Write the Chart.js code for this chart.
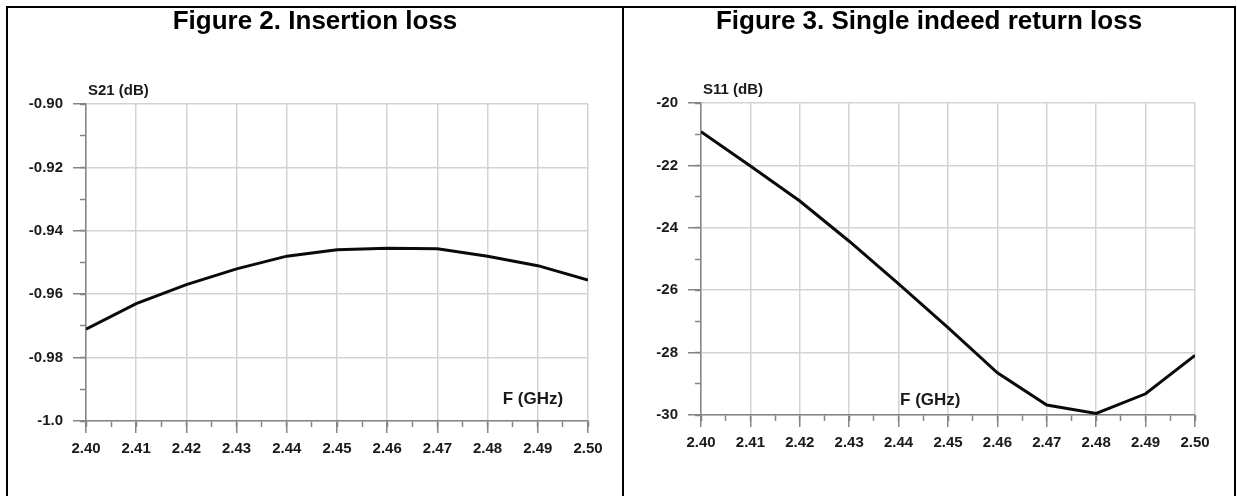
<!DOCTYPE html>
<html lang="en">
<head>
<meta charset="UTF-8">
<title>Insertion loss and return loss</title>
<style>
  html, body { margin: 0; padding: 0; background: #fff; overflow: hidden; }
  body { width: 1237px; height: 496px; position: relative; }
  .frame {
    position: absolute; left: 6px; top: 6px;
    width: 1226px; height: 600px;
    border: 2px solid #000;
  }
  .divider { position: absolute; left: 622px; top: 6px; width: 2px; height: 600px; background: #000; }
  canvas { position: absolute; }
  #chartS21 { left: 8px; top: 8px; }
  #chartS11 { left: 624px; top: 8px; }
</style>
<script src="https://cdn.jsdelivr.net/npm/chart.js@4"></script>
</head>
<body>
<div class="frame"></div>
<div class="divider"></div>
<canvas id="chartS21" width="614" height="488"></canvas>
<canvas id="chartS11" width="610" height="488"></canvas>

<script>
  // frequency points (GHz)
  const freqGHz = [2.40, 2.41, 2.42, 2.43, 2.44, 2.45, 2.46, 2.47, 2.48, 2.49, 2.50];
  // Figure 2: insertion loss S21 (dB)
  const s21dB = [-0.971, -0.963, -0.957, -0.952, -0.948, -0.946, -0.9455, -0.9457, -0.948, -0.951, -0.9555];
  // Figure 3: return loss S11 (dB)
  const s11dB = [-20.92, -22.02, -23.14, -24.43, -25.8, -27.2, -28.65, -29.68, -29.95, -29.32, -28.09];

  const tickFont = { family: '"Liberation Sans Narrow", "Liberation Sans", Arial, sans-serif', size: 15, weight: 'bold' };
  const GRID = '#d3d3d3';
  const AXIS = '#858585';

  // titles and axis names, placed from the chart's own scales
  const panelText = {
    id: 'panelText',
    afterDraw(chart, args, o) {
      const ctx = chart.ctx;
      const area = chart.chartArea;
      const xs = chart.scales.x, ys = chart.scales.y;
      ctx.save();
      ctx.fillStyle = '#000';
      ctx.textBaseline = 'alphabetic';
      ctx.textAlign = 'center';
      ctx.font = 'bold 26px "Liberation Sans", Arial, sans-serif';
      ctx.fillText(o.title, chart.width / 2, 21);
      ctx.textAlign = 'left';
      ctx.fillStyle = '#1a1a1a';
      ctx.font = 'bold 15px "Liberation Sans", Arial, sans-serif';
      ctx.fillText(o.yName, area.left + 2, area.top - 9);
      ctx.font = 'bold 17px "Liberation Sans", Arial, sans-serif';
      ctx.fillText(o.xName, xs.getPixelForValue(o.xNameAt[0]), ys.getPixelForValue(o.xNameAt[1]));
      ctx.restore();
    }
  };

  function makeChart(id, values, yMin, yMax, yStep, yFmt, text, pad, yWidth) {
    const points = freqGHz.map((f, i) => ({ x: f, y: values[i] }));
    return new Chart(document.getElementById(id), {
      type: 'line',
      data: {
        datasets: [{
          data: points,
          xAxisID: 'x',
          yAxisID: 'y',
          borderColor: '#0a0a0a',
          borderWidth: 3,
          pointRadius: 0,
          tension: 0
        }]
      },
      plugins: [panelText],
      options: {
        responsive: false,
        animation: false,
        events: [],
        layout: { padding: pad },
        plugins: {
          legend: { display: false },
          tooltip: { enabled: false },
          panelText: text
        },
        scales: {
          x: {
            type: 'linear', position: 'bottom', weight: 1,
            min: 2.40, max: 2.50,
            ticks: { stepSize: 0.01, autoSkip: false, maxRotation: 0, padding: 7,
                     font: tickFont, color: '#1a1a1a', callback: v => v.toFixed(2) },
            grid: { color: GRID, lineWidth: 1.5, tickLength: 12, tickColor: AXIS, tickWidth: 1.5 },
            border: { color: AXIS, width: 1.5 },
            afterFit: s => { s.height = 40; }
          },
          // minor ticks only, no labels and no grid lines
          xMinor: {
            type: 'linear', position: 'bottom', weight: 0,
            min: 2.40, max: 2.50,
            ticks: { stepSize: 0.005, autoSkip: false, display: false },
            grid: { drawOnChartArea: false, tickLength: 6, tickColor: AXIS, tickWidth: 1.5 },
            border: { display: false },
            afterFit: s => { s.height = 0; }
          },
          y: {
            type: 'linear', position: 'left', weight: 1,
            min: yMin, max: yMax,
            ticks: { stepSize: yStep, padding: 10, font: tickFont, color: '#1a1a1a', callback: yFmt },
            grid: { color: GRID, lineWidth: 1.5, tickLength: 13, tickColor: AXIS, tickWidth: 1.5 },
            border: { color: AXIS, width: 1.5 },
            afterFit: s => { s.width = yWidth; }
          },
          yMinor: {
            type: 'linear', position: 'left', weight: 0,
            min: yMin, max: yMax,
            ticks: { stepSize: yStep / 2, display: false },
            grid: { drawOnChartArea: false, tickLength: 6, tickColor: AXIS, tickWidth: 1.5 },
            border: { display: false },
            afterFit: s => { s.width = 0; }
          }
        }
      }
    });
  }

  makeChart('chartS21', s21dB, -1.0, -0.90, 0.02,
    v => (Math.abs(v + 1) < 1e-9 ? '-1.0' : v.toFixed(2)),
    { title: 'Figure 2. Insertion loss', yName: 'S21 (dB)', xName: 'F (GHz)', xNameAt: [2.483, -0.9946] },
    { top: 96, right: 34, bottom: 35, left: 0 }, 78);

  makeChart('chartS11', s11dB, -30, -20, 2,
    v => String(Math.round(v)),
    { title: 'Figure 3. Single indeed return loss', yName: 'S11 (dB)', xName: 'F (GHz)', xNameAt: [2.4403, -29.68] },
    { top: 95, right: 39, bottom: 41, left: 0 }, 77);
</script>
</body>
</html>
